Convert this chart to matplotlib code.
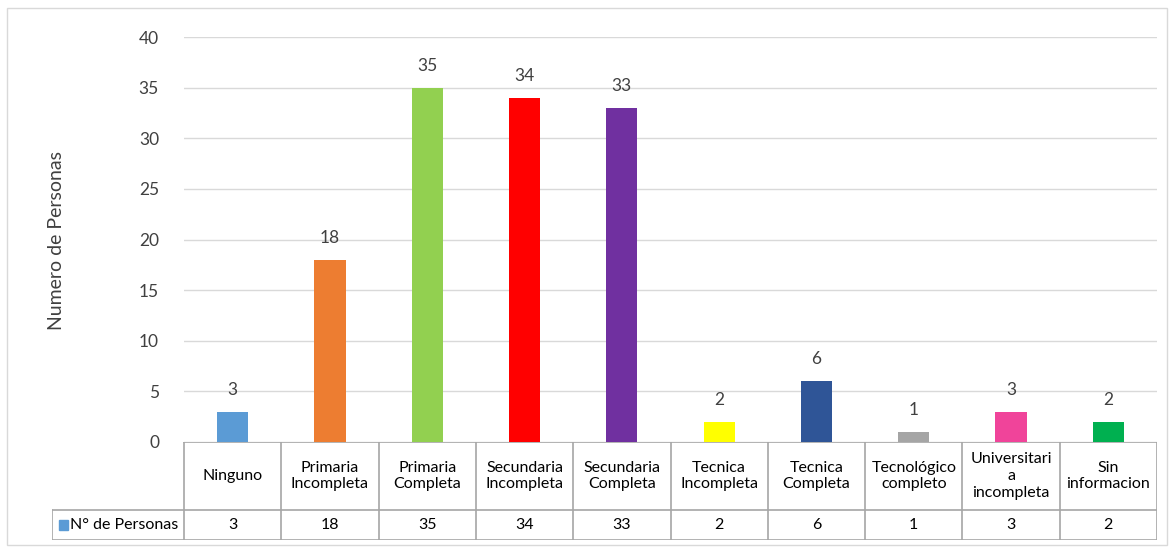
import numpy as np
import matplotlib.pyplot as plt
from matplotlib.patches import Rectangle

plt.rcParams['font.family'] = ['Lato', 'DejaVu Sans']

# data
categorias = ['Ninguno', 'Primaria\nIncompleta', 'Primaria\nCompleta', 'Secundaria\nIncompleta',
              'Secundaria\nCompleta', 'Tecnica\nIncompleta', 'Tecnica\nCompleta', 'Tecnológico\ncompleto',
              'Universitari\na\nincompleta', 'Sin\ninformacion']
personas = [3, 18, 35, 34, 33, 2, 6, 1, 3, 2]
colores = ['#5b9bd5', '#ed7d31', '#92d050', '#ff0000', '#7030a0', '#ffff00',
           '#2f5597', '#a5a5a5', '#f0449a', '#00b050']
serie = 'N° de Personas'
yticks = [0, 5, 10, 15, 20, 25, 30, 35, 40]

W, H = 1170, 548
fig = plt.figure(figsize=(W / 100, H / 100), dpi=100)
fig.add_artist(Rectangle((7 / W, 3 / H), 1160 / W, 537 / H, transform=fig.transFigure,
                         fill=False, ec='#d9d9d9', lw=1))

txt = '#404040'
grid = '#d9d9d9'
tab = '#a6a6a6'

# main axes
ax = fig.add_axes([184 / W, (548 - 442) / H, (1157 - 184) / W, (442 - 37) / H])
x = np.arange(len(personas))
ax.bar(x, personas, width=0.32, color=colores, zorder=3)
for xi, v in zip(x, personas):
    ax.annotate(str(v), (xi, v), xytext=(0, 10), textcoords='offset points',
                ha='center', va='bottom', fontsize=12.5, color=txt)
ax.set_xlim(-0.5, len(personas) - 0.5)
ax.set_ylim(0, 40)
ax.set_yticks(yticks)
ax.set_xticks([])
ax.yaxis.grid(True, color=grid, lw=1, zorder=0)
for s in ax.spines.values():
    s.set_visible(False)
ax.tick_params(axis='y', length=0, pad=18, labelsize=12.5, labelcolor=txt)
fig.text(57 / W, 1 - 240 / H, 'Numero de Personas', rotation=90, ha='center', va='center',
         fontsize=14, color=txt)

# data table
left_px = 52
tx = fig.add_axes([left_px / W, (548 - 540) / H, (1157 - left_px) / W, 98 / H])
cw = (1157 - 184) / len(personas)
x0 = -0.5 - (184 - left_px) / cw
tx.set_xlim(x0, len(personas) - 0.5)
tx.set_ylim(0, 98)
tx.axis('off')
n = len(personas)
tx.plot([-0.5, n - 0.5], [98, 98], color=tab, lw=1.2)
tx.plot([x0, n - 0.5], [30, 30], color=tab, lw=1.2)
tx.plot([x0, n - 0.5], [0.5, 0.5], color=tab, lw=1.2)
tx.plot([x0 + 0.005, x0 + 0.005], [0, 30], color=tab, lw=1.2)
for i in range(n + 1):
    tx.plot([i - 0.5, i - 0.5], [0, 98], color=tab, lw=1.2)
for i, (c, v) in enumerate(zip(categorias, personas)):
    tx.text(i, 64, c, ha='center', va='center', fontsize=11.5, color='#000000', linespacing=1.25)
    tx.text(i, 15, str(v), ha='center', va='center', fontsize=11.5, color='#000000')
tx.add_patch(Rectangle((x0 + 0.07, 10), 0.09, 10, color=colores[0]))
tx.text(x0 + 0.19, 15, serie, ha='left', va='center', fontsize=11.5, color='#000000')

fig.savefig('out.png', dpi=100)
